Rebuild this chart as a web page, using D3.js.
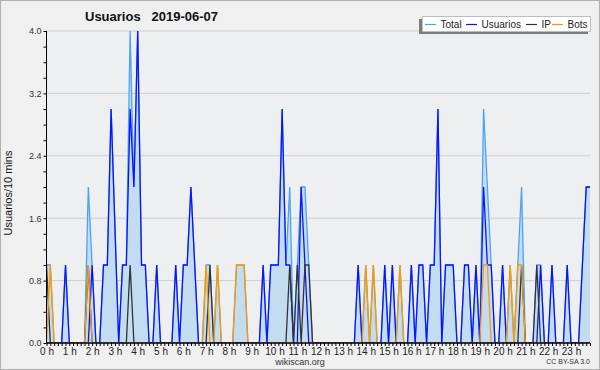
<!DOCTYPE html>
<html><head><meta charset="utf-8">
<script src="https://cdn.jsdelivr.net/npm/d3@7/dist/d3.min.js"></script>
<style>
html,body{margin:0;padding:0;background:#f0f0f0;}
svg{display:block;font-family:"Liberation Sans",Arial,sans-serif;}
</style></head>
<body><svg id="c" width="600" height="370"></svg>
<script>
// 144 ten-minute slots (0:00 .. 23:50)
const hourLabels = d3.range(24).map(h => h + " h");
const yTickLabels = [0, 0.8, 1.6, 2.4, 3.2, 4.0];
const total = [
 1,1,0,0,0,1,0,0,0,0,0,2,
 1,0,0,1,1,3,1.5,0,1,1,4,2,
 4,1,1,0,0,1,0,0,0,0,1,0,
 1,1,2,1,0,0,1,1,0,1,0,0,
 0,0,1,1,1,0,0,0,0,1,0,1,
 1,1,3,1,2,0,1,2,2,1,0,0,
 0,0,0,0,0,0,0,0,0,0,1,0,
 1,0,1,0,0,1,0,1,0,1,0,0,
 1,0,1,1,0,1,1,3,0,1,1,1,
 0,0,1,1,0,1,0,3,2,1,0,0,
 1,0,1,0,1,2,0,0,0,1,1,0,
 0,1,0,0,0,1,0,0,0,1,2,2];
const usuarios = [
 0,0,0,0,0,1,0,0,0,0,0,0,
 1,0,0,1,1,3,1.5,0,1,1,3,2,
 4,1,1,0,0,1,0,0,0,0,1,0,
 1,1,2,1,0,0,0,0,0,0,0,0,
 0,0,0,0,0,0,0,0,0,1,0,1,
 1,1,3,1,1,0,0,2,1,0,0,0,
 0,0,0,0,0,0,0,0,0,0,1,0,
 0,0,0,0,0,1,0,1,0,0,0,0,
 1,0,1,1,0,1,1,3,0,1,1,1,
 0,0,1,1,0,1,0,2,1,1,0,0,
 1,0,0,0,0,0,0,0,0,0,1,0,
 0,1,0,0,0,1,0,0,0,1,2,2];
const ip = [
 1,0,0,0,0,0,0,0,0,0,0,1,
 0,0,0,0,0,0,0,0,0,0,1,0,
 0,0,0,0,0,0,0,0,0,0,0,0,
 0,0,0,0,0,0,0,1,0,0,0,0,
 0,0,0,0,0,0,0,0,0,0,0,0,
 0,0,0,0,1,0,1,0,1,1,0,0,
 0,0,0,0,0,0,0,0,0,0,0,0,
 0,0,0,0,0,0,0,0,0,0,0,0,
 0,0,0,0,0,0,0,0,0,0,0,0,
 0,0,0,0,0,0,0,0,0,0,0,0,
 0,0,0,0,0,1,0,0,0,1,0,0,
 0,0,0,0,0,0,0,0,0,0,0,0];
const bots = [
 0,1,0,0,0,0,0,0,0,0,0,1,
 0,0,0,0,0,0,0,0,0,0,0,0,
 0,0,0,0,0,0,0,0,0,0,0,0,
 0,0,0,0,0,0,1,0,0,1,0,0,
 0,0,1,1,1,0,0,0,0,0,0,0,
 0,0,0,0,0,0,0,0,0,0,0,0,
 0,0,0,0,0,0,0,0,0,0,0,0,
 1,0,1,0,0,0,0,0,0,1,0,0,
 0,0,0,0,0,0,0,0,0,0,0,0,
 0,0,0,0,0,0,0,1,1,0,0,0,
 0,0,1,0,1,1,0,0,0,0,0,0,
 0,0,0,0,0,0,0,0,0,0,0,0];
const seriesNames = ["Total", "Usuarios", "IP", "Bots"];
const seriesColors = ["#4aa3f5", "#0a14ff", "#333333", "#ff9900"];

const svg = d3.select("#c");
const W = 600, H = 370;
const L = 46.5, R = 590, T = 31, B = 343;

svg.append("rect").attr("x",0.5).attr("y",0.5).attr("width",W-1).attr("height",H-1)
  .attr("fill","#f0f0f0").attr("stroke","#b0b0b0");
svg.append("rect").attr("x",L).attr("y",T).attr("width",R-L).attr("height",B-T).attr("fill","#eeeff1");

const x = d3.scaleLinear().domain([0, 143]).range([L, R]);
const y = d3.scaleLinear().domain([0, 4]).range([B, T]);

svg.append("defs").append("clipPath").attr("id","clip")
  .append("rect").attr("x",L).attr("y",T-3).attr("width",R-L+1).attr("height",B-T+2.6);

// grid
svg.append("g").selectAll("line").data(yTickLabels.slice(1)).join("line")
  .attr("x1",L).attr("x2",R).attr("y1",d=>y(d)).attr("y2",d=>y(d))
  .attr("stroke","#cfcfcf").attr("stroke-width",1);

// Total area + lines
const idx = d3.range(144);
const plot = svg.append("g").attr("clip-path","url(#clip)");
const area = d3.area().x(i=>x(i)).y0(y(0)).y1(i=>y(total[i]));
plot.append("path").attr("d", area(idx)).attr("fill","#c4dcf0");
const data = [total, usuarios, ip, bots];
data.forEach((arr, k) => {
  const line = d3.line().x(i=>x(i)).y(i=>y(arr[i]));
  plot.append("path").attr("d", line(idx)).attr("fill","none")
    .attr("stroke", seriesColors[k]).attr("stroke-width", 1.3)
    .attr("stroke-linejoin","miter");
});

// axes
const yAxis = d3.axisLeft(y).tickValues(d3.range(0, 21).map(v=>v*0.2)).tickSize(3).tickPadding(2)
  .tickFormat(d => (Math.abs(Math.round(d/0.8)*0.8 - d) < 1e-6) ? d3.format(".1f")(d) : "");
const gy = svg.append("g").attr("transform",`translate(${L},0)`).call(yAxis);
gy.select(".domain").attr("stroke","#000").attr("d",`M0,${B}V${T}`);
gy.selectAll(".tick line").attr("stroke","#000");
gy.selectAll("text").attr("font-size",9).attr("fill","#333").attr("font-family","Liberation Sans, Arial, sans-serif");

const xAxis = d3.axisBottom(x).tickValues(idx).tickSize(3).tickPadding(2)
  .tickFormat(i => i % 6 === 0 ? hourLabels[i/6] : "");
const gx = svg.append("g").attr("transform",`translate(0,${B})`).call(xAxis);
gx.select(".domain").attr("stroke","#000").attr("stroke-width",1.3).attr("d",`M${L},0H${R}`);
gx.selectAll(".tick line").attr("stroke","#000");
gx.selectAll("text").attr("font-size",10).attr("fill","#222").attr("font-family","Liberation Sans, Arial, sans-serif");

// title
svg.append("text").attr("x",85).attr("y",21).attr("font-size",13).attr("font-weight","bold")
  .attr("fill","#111").attr("xml:space","preserve").style("white-space","pre")
  .text("Usuarios   2019-06-07");

// y label
svg.append("text").attr("transform","translate(12,193) rotate(-90)").attr("text-anchor","middle")
  .attr("font-size",11).attr("fill","#111").text("Usuarios/10 mins");

// footer
svg.append("text").attr("x",300).attr("y",365).attr("text-anchor","middle").attr("font-size",9)
  .attr("fill","#333").text("wikiscan.org");
svg.append("text").attr("x",590).attr("y",364).attr("text-anchor","end").attr("font-size",7)
  .attr("fill","#333").text("CC BY-SA 3.0");

// legend
const legendX = [425, 466, 526, 552];
const lg = svg.append("g");
lg.append("rect").attr("x",419).attr("y",19).attr("width",169).attr("height",15).attr("fill","#7d7d7d");
lg.append("rect").attr("x",422.5).attr("y",16.5).attr("width",168).attr("height",15)
  .attr("fill","#fff").attr("stroke","#bdbdbd");
seriesNames.forEach((n, k) => {
  const cx = legendX[k];
  lg.append("line").attr("x1",cx).attr("x2",cx+11).attr("y1",24.5).attr("y2",24.5)
    .attr("stroke",seriesColors[k]).attr("stroke-width",1.2);
  lg.append("text").attr("x",cx+15.5).attr("y",28.3).attr("font-size",10).attr("fill","#222").text(n);
});
</script></body></html>
